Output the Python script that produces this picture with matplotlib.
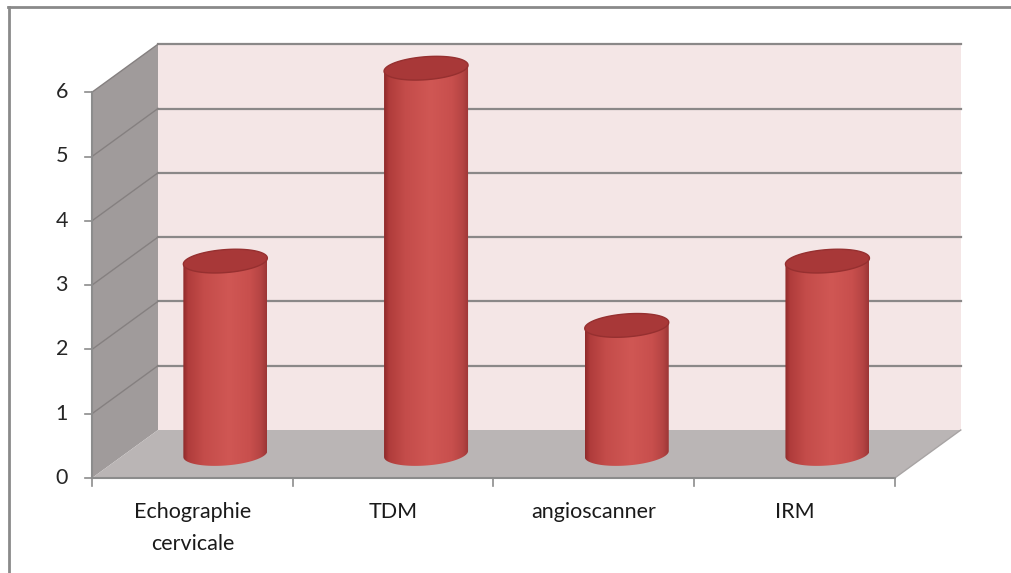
import numpy as np
import matplotlib.pyplot as plt
from matplotlib.patches import Polygon, Rectangle
from matplotlib.colors import LinearSegmentedColormap
from matplotlib.lines import Line2D

categories = ['Echographie\ncervicale', 'TDM', 'angioscanner', 'IRM']
values = [3, 6, 2, 3]
y_ticks = [0, 1, 2, 3, 4, 5, 6]

plt.rcParams['font.family'] = ['Lato', 'DejaVu Sans']

# pixel calibration of the original chart
px_cat = 200.7     # pixels per category
px_val = 64.3      # pixels per unit
x0_px, y0_px = 92, 478
W, H = 1012, 573

dx = 66 / px_cat   # depth offset
dy = 48 / px_val
n = len(categories)
ymax = max(y_ticks)

fig = plt.figure(figsize=(W / 100, H / 100), dpi=100)
ax = fig.add_axes([0, 0, 1, 1])
ax.set_axis_off()
xlim = (-x0_px / px_cat, (W - x0_px) / px_cat)
ylim = (-(H - y0_px) / px_val, y0_px / px_val)

# walls and floor
ax.add_patch(Polygon([(0, 0), (0, ymax), (dx, ymax + dy), (dx, dy)],
                     facecolor='#a09b9b', edgecolor='none', zorder=1))
ax.add_patch(Rectangle((dx, dy), n, ymax, facecolor='#f4e6e6',
                       edgecolor='none', zorder=1))
ax.add_patch(Polygon([(0, 0), (n, 0), (n + dx, dy), (dx, dy)],
                     facecolor='#bab5b5', edgecolor='none', zorder=1))

# gridlines
for v in y_ticks[1:]:
    ax.plot([dx, n + dx], [v + dy, v + dy], color='#8a8888', lw=1.6, zorder=2)
    ax.plot([0, dx], [v, v + dy], color='#858080', lw=1.0, zorder=2)

# axes lines and ticks
grey = '#8c8c8c'
ax.plot([0, 0], [0, ymax], color=grey, lw=1.5, zorder=3)
ax.plot([0, n], [0, 0], color=grey, lw=1.5, zorder=3)
ax.plot([n, n + dx], [0, dy], color='#a8a4a4', lw=1.0, zorder=3)
for v in y_ticks:
    ax.plot([-7 / px_cat, 0], [v, v], color=grey, lw=1.2, zorder=3)
    ax.text(-0.12, v, str(v), ha='right', va='center', fontsize=15.5,
            color='#262626')
for i in range(n + 1):
    ax.plot([i, i], [0, -8 / px_val], color=grey, lw=1.2, zorder=3)
for i, lab in enumerate(categories):
    ax.text(i + 0.5, -24 / px_val, lab, ha='center', va='top', fontsize=15.5,
            color='#1a1a1a', linespacing=1.75)

# cylinders
cmap = LinearSegmentedColormap.from_list('cyl', [
    (0.0, '#8e2a2a'), (0.06, '#b03c3b'), (0.25, '#c44c4a'), (0.55, '#d05754'),
    (0.8, '#c84f4d'), (0.93, '#b54443'), (1.0, '#9c3636')])
grad = np.linspace(0, 1, 256).reshape(1, -1)
r = 42 / px_cat
ry = 11.5 / px_val
tilt = 3 / px_val
t = np.linspace(0, 2 * np.pi, 120)


def ellipse_pts(cx, cy, ts):
    return np.column_stack([cx + r * np.cos(ts),
                            cy + ry * np.sin(ts) + tilt * np.cos(ts)])


for i, v in enumerate(values):
    cx = i + 0.5 + dx / 2
    base = dy / 2
    top = v + dy / 2
    lower = ellipse_pts(cx, base, np.linspace(np.pi, 2 * np.pi, 60))
    body = np.vstack([[(cx - r, top - tilt)], lower, [(cx + r, top + tilt)]])
    patch = Polygon(body, closed=True, facecolor='none', edgecolor='none',
                    zorder=4)
    ax.add_patch(patch)
    im = ax.imshow(grad, cmap=cmap, aspect='auto', zorder=4,
                   extent=[cx - r, cx + r, base - ry - tilt, top + tilt],
                   interpolation='bilinear')
    im.set_clip_path(patch)
    ax.add_patch(Polygon(ellipse_pts(cx, top, t), closed=True,
                         facecolor='#a83838', edgecolor='#963030', lw=1.0,
                         zorder=5))

ax.set_xlim(*xlim)
ax.set_ylim(*ylim)

# outer frame
fig.add_artist(Line2D([8 / W, 1], [1 - 7 / H, 1 - 7 / H], color='#8a8a8a', lw=2))
fig.add_artist(Line2D([9 / W, 9 / W], [0, 1 - 7 / H], color='#8a8a8a', lw=2))

fig.savefig('out.png', dpi=100)
